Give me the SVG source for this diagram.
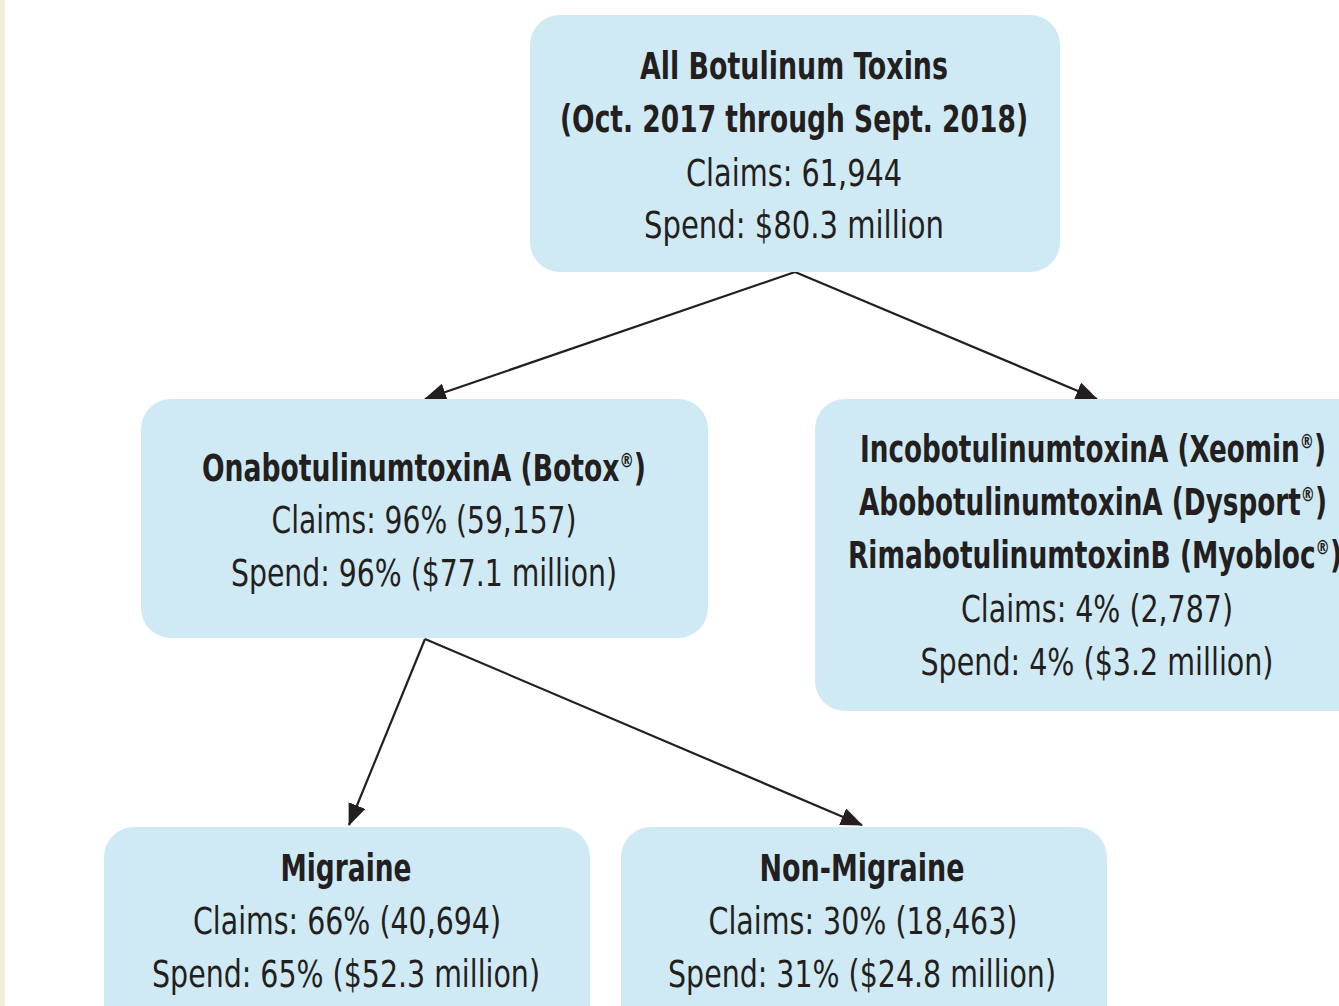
<svg xmlns="http://www.w3.org/2000/svg" width="1339" height="1006" viewBox="0 0 1339 1006">
<style>
.box{fill:#D0EAF5}
text{font-family:"Liberation Sans Narrow","DejaVu Sans Condensed","Roboto Condensed",sans-serif;font-size:37px;fill:#231F20;text-anchor:middle}
.b{font-weight:bold}
.sup{font-size:20px}
.conn{stroke:#231F20;stroke-width:2.2;fill:none;marker-end:url(#ah)}
</style>
<defs>
<marker id="ah" markerUnits="userSpaceOnUse" markerWidth="22" markerHeight="18" viewBox="0 0 22 18" refX="21" refY="9" orient="auto">
<path d="M0,0 L22,9 L0,18 Z" fill="#231F20"/>
</marker>
</defs>
<rect x="0" y="0" width="1339" height="1006" fill="#FFFFFF"/>
<rect x="0" y="0" width="5" height="1006" fill="#F3F0D8"/>
<g id="connectors">
<line class="conn" x1="795" y1="272" x2="425" y2="399"/>
<line class="conn" x1="795" y1="272" x2="1097" y2="399"/>
<line class="conn" x1="425" y1="639" x2="349" y2="825"/>
<line class="conn" x1="425" y1="639" x2="862" y2="825"/>
</g>
<g id="n-all">
<rect class="box" x="530" y="15" width="530" height="257" rx="30"/>
<text x="794" y="79" class="b" textLength="308" lengthAdjust="spacingAndGlyphs">All Botulinum Toxins</text>
<text x="794" y="132" class="b" textLength="468" lengthAdjust="spacingAndGlyphs">(Oct. 2017 through Sept. 2018)</text>
<text x="794" y="186" textLength="216" lengthAdjust="spacingAndGlyphs">Claims: 61,944</text>
<text x="794" y="238" textLength="300" lengthAdjust="spacingAndGlyphs">Spend: $80.3 million</text>
</g>
<g id="n-botox">
<rect class="box" x="141" y="399" width="567" height="239" rx="30"/>
<text x="424" y="481" class="b" textLength="444" lengthAdjust="spacingAndGlyphs">OnabotulinumtoxinA (Botox<tspan class="sup" dy="-14">®</tspan><tspan dy="14">)</tspan></text>
<text x="424" y="533" textLength="305" lengthAdjust="spacingAndGlyphs">Claims: 96% (59,157)</text>
<text x="424" y="586" textLength="386" lengthAdjust="spacingAndGlyphs">Spend: 96% ($77.1 million)</text>
</g>
<g id="n-others">
<rect class="box" x="815" y="399" width="560" height="312" rx="30"/>
<text x="1093" y="462" class="b" textLength="466" lengthAdjust="spacingAndGlyphs">IncobotulinumtoxinA (Xeomin<tspan class="sup" dy="-14">®</tspan><tspan dy="14">)</tspan></text>
<text x="1093" y="515" class="b" textLength="468" lengthAdjust="spacingAndGlyphs">AbobotulinumtoxinA (Dysport<tspan class="sup" dy="-14">®</tspan><tspan dy="14">)</tspan></text>
<text x="1095" y="568" class="b" textLength="494" lengthAdjust="spacingAndGlyphs">RimabotulinumtoxinB (Myobloc<tspan class="sup" dy="-14">®</tspan><tspan dy="14">)</tspan></text>
<text x="1097" y="622" textLength="272" lengthAdjust="spacingAndGlyphs">Claims: 4% (2,787)</text>
<text x="1097" y="675" textLength="353" lengthAdjust="spacingAndGlyphs">Spend: 4% ($3.2 million)</text>
</g>
<g id="n-migraine">
<rect class="box" x="104" y="827" width="486" height="220" rx="30"/>
<text x="346" y="881" class="b" textLength="131" lengthAdjust="spacingAndGlyphs">Migraine</text>
<text x="347" y="934" textLength="308" lengthAdjust="spacingAndGlyphs">Claims: 66% (40,694)</text>
<text x="346" y="987" textLength="388" lengthAdjust="spacingAndGlyphs">Spend: 65% ($52.3 million)</text>
</g>
<g id="n-nonmigraine">
<rect class="box" x="621" y="827" width="486" height="220" rx="30"/>
<text x="862" y="881" class="b" textLength="205" lengthAdjust="spacingAndGlyphs">Non-Migraine</text>
<text x="863" y="934" textLength="309" lengthAdjust="spacingAndGlyphs">Claims: 30% (18,463)</text>
<text x="862" y="987" textLength="388" lengthAdjust="spacingAndGlyphs">Spend: 31% ($24.8 million)</text>
</g>
</svg>
